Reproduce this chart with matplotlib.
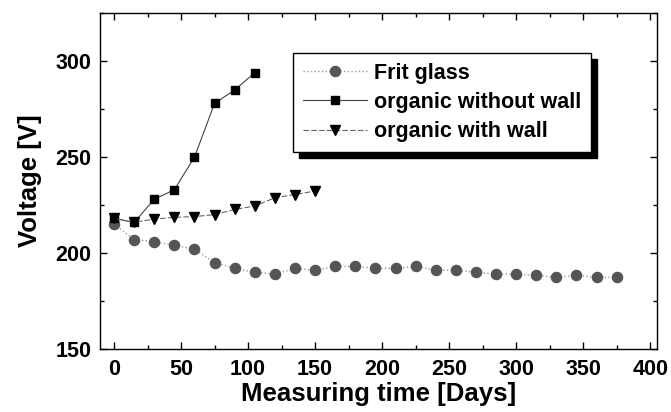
import numpy as np
import matplotlib
matplotlib.use("Agg")
import matplotlib.pyplot as plt
from matplotlib.ticker import MultipleLocator

plt.rcParams['font.family'] = ['Liberation Sans', 'DejaVu Sans']
plt.rcParams['font.weight'] = 'bold'

# Frit glass: measured every 15 days
frit_days = [0, 15, 30, 45, 60, 75, 90, 105, 120, 135, 150, 165, 180,
             195, 210, 225, 240, 255, 270, 285, 300, 315, 330, 345, 360, 375]
frit_volt = [215, 207, 206, 204, 202, 195, 192, 190, 189, 192, 191, 193, 193,
             192, 192, 193, 191, 191, 190, 189, 189, 188.4, 187.3, 188.4, 187.3, 187.3]

# organic without wall
nowall_days = [0, 15, 30, 45, 60, 75, 90, 105]
nowall_volt = [218, 216, 228, 233, 250, 278, 285, 294]

# organic with wall
wall_days = [0, 15, 30, 45, 60, 75, 90, 105, 120, 135, 150]
wall_volt = [218, 216, 217.7, 218.6, 219, 220, 222.7, 224.5, 228.8, 230.5, 232.3]

fig = plt.figure(figsize=(6.71, 4.12), dpi=100)
ax = fig.add_axes([0.149, 0.153, 0.830, 0.815])

ax.plot(frit_days, frit_volt, linestyle=':', color='#9a9a9a', linewidth=1.0,
        marker='o', markersize=7.3, markerfacecolor='#555555',
        markeredgecolor='#555555', label='Frit glass')
ax.plot(nowall_days, nowall_volt, linestyle='-', color='#444444', linewidth=0.8,
        marker='s', markersize=5.8, markerfacecolor='black',
        markeredgecolor='black', label='organic without wall')
ax.plot(wall_days, wall_volt, linestyle=(0, (5, 2)), color='#666666', linewidth=0.8,
        marker='v', markersize=7.5, markerfacecolor='black',
        markeredgecolor='black', label='organic with wall')

ax.set_xlim(-10.5, 405)
ax.set_ylim(150, 325)
ax.xaxis.set_major_locator(MultipleLocator(50))
ax.xaxis.set_minor_locator(MultipleLocator(25))
ax.yaxis.set_major_locator(MultipleLocator(50))
ax.yaxis.set_minor_locator(MultipleLocator(25))
ax.tick_params(which='both', direction='in', top=True, right=True, width=1.0)
ax.tick_params(which='major', length=5, labelsize=15.5)
ax.tick_params(axis='x', which='major', pad=7)
ax.tick_params(axis='y', which='major', pad=6)
ax.tick_params(which='minor', length=3)
for s in ax.spines.values():
    s.set_linewidth(1.0)

ax.set_xlabel('Measuring time [Days]', fontsize=18.5, fontweight='bold', labelpad=2)
ax.set_ylabel('Voltage [V]', fontsize=18.5, fontweight='bold', labelpad=10)

leg = ax.legend(loc='upper left', bbox_to_anchor=(293 / 671, 1 - 53 / 412),
                bbox_transform=fig.transFigure, borderaxespad=0,
                fontsize=15.5, numpoints=1, handlelength=3.0, handletextpad=0.3,
                labelspacing=0.38, borderpad=0.45, fancybox=False,
                edgecolor='black', framealpha=1,
                shadow={'color': 'black', 'alpha': 1, 'ox': 4.3, 'oy': -4.3})
leg.get_frame().set_linewidth(1.0)

fig.savefig('out.png', dpi=100)
